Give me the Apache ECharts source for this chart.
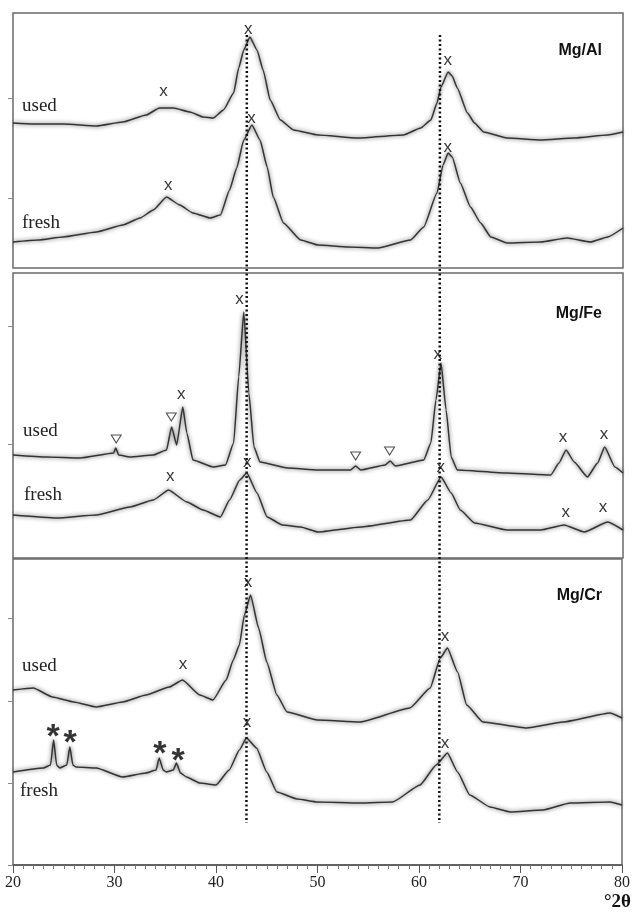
<!DOCTYPE html>
<html>
<head>
<meta charset="utf-8">
<script src="https://cdn.jsdelivr.net/npm/echarts@6/dist/echarts.min.js"></script>
<style>
  html, body { margin: 0; padding: 0; background: #fff; }
  #main { width: 633px; height: 920px; }
</style>
</head>
<body>
<div id="main"></div>
<script>
// XRD patterns, [°2θ, intensity (a.u., stacked offset)]
var alUsed = [[20,145],[22,144],[25,144],[28.2,142],[30.8,146],[33.1,153],[34.4,160],[35.8,160],[37.4,156],[38.7,151],[39.7,150],[40.7,158],[41.7,175],[42.2,200],[42.7,218],[43.3,231],[44,218],[44.6,198],[45.3,168],[46.3,148],[47.6,138],[50,133],[53.9,130],[58.4,133],[60.1,140],[61.1,148],[61.7,165],[62.1,181],[62.8,196],[63.2,192],[63.7,180],[64.7,155],[65.4,145],[66.3,136],[68.6,130],[71.9,128],[75.2,130],[78.5,133],[80,136]];
var alFresh = [[20,26],[22.5,28],[24.9,31],[28.2,36],[30.8,43],[32.5,50],[33.8,58],[35.1,71],[36.4,63],[37.7,55],[39.4,50],[40.4,53],[41.3,78],[42,100],[42.7,128],[43.5,143],[44.3,128],[45,101],[45.6,71],[46.6,45],[48.3,28],[50,23],[53,21],[55.9,20],[59.1,28],[60.4,41],[61.7,75],[62.3,103],[62.8,115],[63.2,111],[64,85],[65,61],[66,45],[67,31],[68.6,25],[71.9,26],[74.5,30],[76.8,26],[78.5,31],[80,40]];
var feUsed = [[20,103],[23.3,101],[26.6,100],[29.9,105],[30.1,110],[30.4,103],[31.5,101],[33.8,103],[35.1,108],[35.6,131],[36.1,113],[36.7,151],[37.1,125],[37.7,98],[39.7,91],[40.9,93],[41.7,115],[42.2,181],[42.7,246],[43.2,165],[43.7,111],[44.3,96],[47,90],[50,88],[53.2,88],[53.7,92],[54.2,88],[56.6,93],[57.1,97],[57.6,92],[60.4,98],[61.1,115],[61.6,158],[62.1,195],[62.6,148],[63.1,101],[63.7,88],[68.6,85],[72.9,83],[73.7,95],[74.4,108],[75.2,96],[76.5,81],[77.5,95],[78.2,111],[79.2,91],[80,85]];
var feFresh = [[20,43],[24.3,40],[28.2,43],[31.5,51],[33.8,58],[35.3,68],[37.1,56],[38.7,48],[40.4,41],[41.3,58],[42.3,78],[43,85],[44,65],[45,41],[46.5,33],[48.3,31],[50,26],[54.2,31],[59.1,38],[60.8,58],[62.1,81],[63.1,65],[64,48],[65.4,35],[68.6,28],[71.9,28],[74.2,33],[76.2,26],[78.5,36],[80,28]];
var crUsed = [[20,175],[22,177],[23.9,168],[26,163],[28.2,158],[30.8,163],[33.1,170],[35.4,178],[36.7,185],[38.4,170],[39.7,165],[41,185],[41.7,205],[42.3,220],[42.8,250],[43.4,270],[44.2,237],[45,203],[46,170],[47,153],[50,145],[54.2,143],[59.1,157],[61.1,177],[62.1,207],[62.8,217],[63.8,193],[64.7,160],[66.3,143],[70.6,137],[74.2,143],[78.8,152],[80,147]];
var crFresh = [[20,93],[23,97],[23.7,100],[24,125],[24.3,100],[24.6,97],[25.3,100],[25.6,118],[25.9,100],[26.2,98],[28.2,97],[30.8,88],[33.1,92],[34.1,95],[34.4,107],[34.8,95],[35.1,93],[35.8,95],[36.1,102],[36.5,92],[37.1,88],[38.4,82],[40,80],[41.3,95],[42.3,115],[43,127],[44,117],[45,93],[46,73],[48,66],[50,63],[54.2,62],[57.4,63],[60.1,80],[61.7,100],[62.8,112],[63.8,93],[65,70],[67,58],[69,53],[72.2,55],[74.9,62],[78.8,63],[80,60]];

// phase marks [°2θ, intensity]
var alPeaks = [[34.8,177],[43.15,239],[35.27,83],[43.45,150],[62.76,208],[62.76,121]];
var fePeaks = [[42.27,259],[36.55,164],[35.47,82],[43.05,96],[61.77,204],[74.09,121],[78.13,124],[62.07,91],[74.38,46],[78.03,51]];
var feSpinel = [[30.15,119],[35.57,141],[53.7,102],[57.04,107]];
var crPeaks = [[43.15,283],[36.75,201],[43.05,143],[62.56,229],[62.56,122]];
var crOxide = [[23.94,135],[25.62,129],[34.48,118],[36.26,111]];

var xTicks = [20, 30, 40, 50, 60, 70, 80];
var refLines = [43, 62];
var panelNames = ['Mg/Al', 'Mg/Fe', 'Mg/Cr'];
var yMax = [255, 285, 306];
var yTicks = [[70, 170], [114, 232], [0, 82, 164, 247]];

var chart = echarts.init(document.getElementById('main'));

var grids = [
  {left: 13, right: 10, top: 13, height: 255},
  {left: 13, right: 10, top: 273, height: 285},
  {left: 13, right: 10, top: 559, height: 306}
];
grids.forEach(function (g) {
  g.show = true; g.borderColor = '#6a6a6a'; g.borderWidth = 1.5; g.backgroundColor = 'transparent';
});

var xAxes = grids.map(function (g, i) {
  var last = i === 2;
  return {
    type: 'value', gridIndex: i, min: 20, max: 80, interval: 10,
    axisLine: {show: last, lineStyle: {color: '#555', width: 1.5}},
    axisTick: {show: last, length: 8, lineStyle: {color: '#555'}},
    minorTick: {show: last, splitNumber: 10, length: 4, lineStyle: {color: '#777'}},
    axisLabel: {
      show: last, margin: 10, color: '#222', fontSize: 16,
      fontFamily: 'Liberation Serif, Times New Roman, serif',
      customValues: xTicks
    },
    splitLine: {show: false}
  };
});

var yAxes = grids.map(function (g, i) {
  return {
    type: 'value', gridIndex: i, min: 0, max: yMax[i],
    axisLine: {show: false},
    axisTick: {show: true, length: 5, customValues: yTicks[i], lineStyle: {color: '#888'}},
    axisLabel: {show: false},
    splitLine: {show: false}
  };
});

function curve(data, idx) {
  return {
    type: 'line', xAxisIndex: idx, yAxisIndex: idx, data: data,
    showSymbol: false, silent: true, smooth: 0.15, smoothMonotone: 'x',
    lineStyle: {color: '#333', width: 1.5, shadowColor: 'rgba(0,0,0,0.7)', shadowBlur: 4}
  };
}

function marks(data, idx, txt, fontSize, weight, offset) {
  return {
    type: 'scatter', xAxisIndex: idx, yAxisIndex: idx, data: data,
    symbolSize: 2, itemStyle: {color: 'rgba(0,0,0,0)'}, silent: true, z: 5,
    label: {
      show: true, position: 'inside', formatter: txt, offset: offset || [0, 0],
      color: '#000', textBorderWidth: 0, fontSize: fontSize, fontWeight: weight,
      fontFamily: 'Arial, Liberation Sans, sans-serif'
    }
  };
}

function triangles(data, idx) {
  return {
    type: 'scatter', xAxisIndex: idx, yAxisIndex: idx, data: data,
    symbol: 'triangle', symbolRotate: 180, symbolSize: [10, 8], silent: true,
    itemStyle: {color: '#fff', borderColor: '#222', borderWidth: 1}
  };
}

var series = [
  curve(alUsed, 0), curve(alFresh, 0),
  curve(feUsed, 1), curve(feFresh, 1),
  curve(crUsed, 2), curve(crFresh, 2),
  marks(alPeaks, 0, 'x', 17, 'normal'), marks(fePeaks, 1, 'x', 17, 'normal'), marks(crPeaks, 2, 'x', 17, 'normal'),
  triangles(feSpinel, 1),
  marks(crOxide, 2, '*', 34, 'bold', [0, 8])
];

var serif = 'Liberation Serif, Times New Roman, serif';
var sampleText = [
  {x: 22, y: 108, t: 'used'}, {x: 22, y: 225, t: 'fresh'},
  {x: 23, y: 433, t: 'used'}, {x: 24, y: 497, t: 'fresh'},
  {x: 22, y: 668, t: 'used'}, {x: 20, y: 793, t: 'fresh'}
];
var graphics = sampleText.map(function (s) {
  return {type: 'text', left: s.x, top: s.y - 11,
    style: {text: s.t, font: '19px ' + serif, fill: '#222'}};
});
[52, 315, 597].forEach(function (y, i) {
  graphics.push({type: 'text', right: 31, top: y - 9,
    style: {text: panelNames[i], font: 'bold 16px Arial, Liberation Sans, sans-serif', fill: '#111'}});
});
graphics.push({type: 'text', right: 2, top: 893,
  style: {text: '°2θ', font: 'bold 19px ' + serif, fill: '#111'}});

chart.setOption({
  animation: false,
  backgroundColor: '#fff',
  grid: grids,
  xAxis: xAxes,
  yAxis: yAxes,
  series: series,
  graphic: graphics
});

// dotted reference lines running through all three panels
refLines.forEach(function (t) {
  var top = chart.convertToPixel({gridIndex: 0}, [t, 233]);
  var bot = chart.convertToPixel({gridIndex: 2}, [t, 42]);
  graphics.push({
    type: 'line', z: 10,
    shape: {x1: top[0], y1: top[1], x2: bot[0], y2: bot[1]},
    style: {stroke: '#111', lineWidth: 2.5, lineDash: [2, 2.5]}
  });
});
chart.setOption({graphic: graphics});
</script>
</body>
</html>
